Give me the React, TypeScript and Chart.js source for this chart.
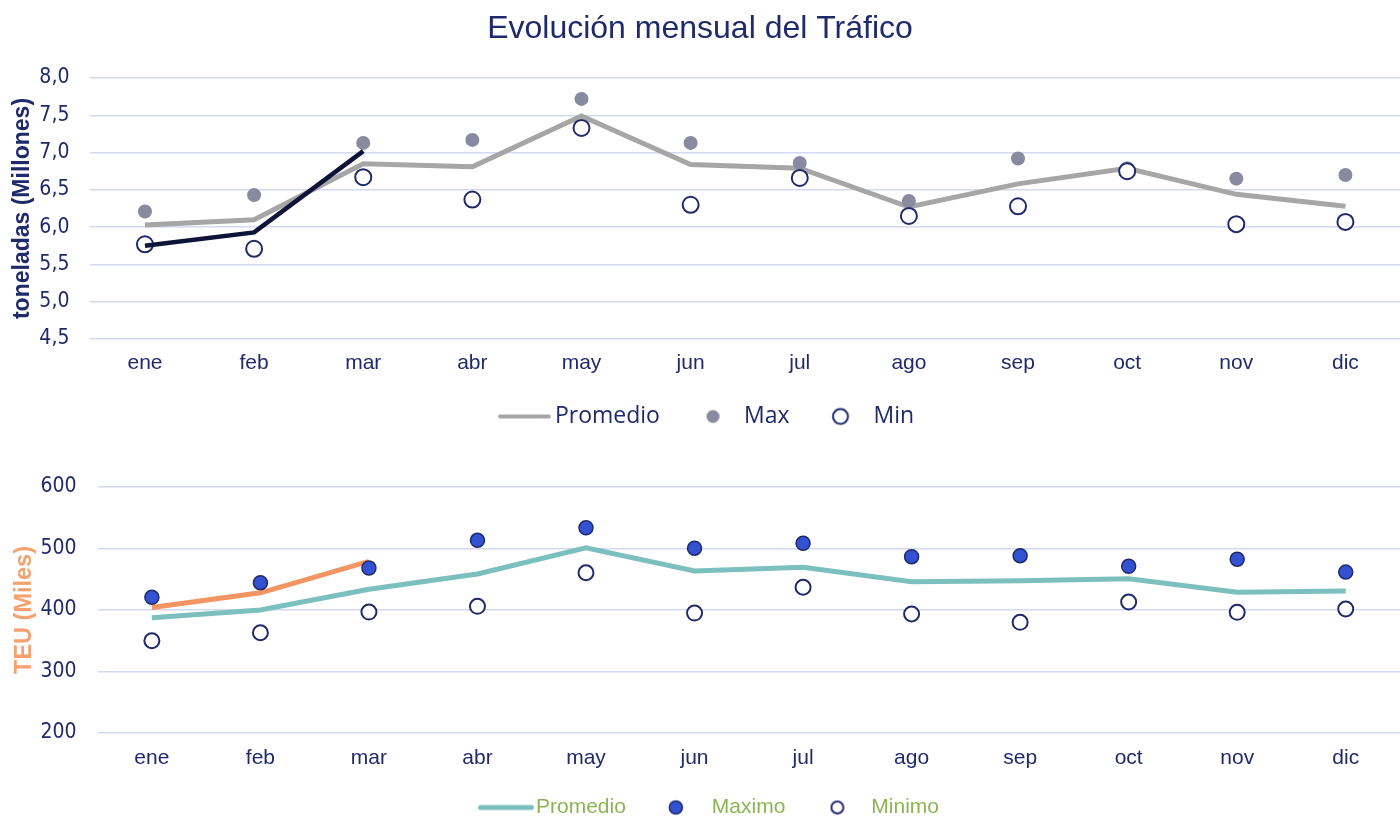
import React, { useEffect, useRef } from "react";
import { Chart, registerables } from "chart.js";

Chart.register(...registerables);

// ---------- data ----------
const months = ["ene", "feb", "mar", "abr", "may", "jun", "jul", "ago", "sep", "oct", "nov", "dic"];

const tonPromedio = [6.03, 6.1, 6.85, 6.81, 7.49, 6.84, 6.79, 6.27, 6.58, 6.79, 6.44, 6.28];
const tonMax = [6.21, 6.43, 7.13, 7.17, 7.72, 7.13, 6.86, 6.35, 6.92, 6.79, 6.65, 6.7];
const tonMin = [5.77, 5.71, 6.67, 6.37, 7.33, 6.3, 6.66, 6.15, 6.28, 6.75, 6.04, 6.07];
const tonActual = [5.75, 5.93, 7.02, null, null, null, null, null, null, null, null, null];

const teuPromedio = [387.5, 400, 433.6, 458.5, 501, 463.4, 469.6, 446, 447.7, 450.9, 428.7, 430.9];
const teuMax = [420.6, 444.4, 468.3, 513.3, 533.8, 500.5, 508.4, 486.7, 488.3, 471, 482.4, 461.6];
const teuMin = [350, 363, 396.7, 406, 460.6, 395, 437, 393.5, 380, 413, 396.2, 401.6];
const teuActual = [404, 428, 479, null, null, null, null, null, null, null, null, null];

const tonAxis = { min: 4.5, max: 8, step: 0.5 };
const teuAxis = { min: 200, max: 600, step: 100 };

const chartTitle = "Evolución mensual del Tráfico";
const tonAxisTitle = "toneladas (Millones)";
const teuAxisTitle = "TEU (Miles)";
const tonLegend = ["Promedio", "Max", "Min"];
const teuLegend = ["Promedio", "Maximo", "Minimo"];

// ---------- styles ----------
const NAVY = "#1f2a6b";
const GRID = "#d3daf2";
const GRAY_LINE = "#a6a6a6";
const GRAY_DOT = "#888a9f";
const DARK_LINE = "#0e1438";
const TEAL = "#7cbfbf";
const ORANGE = "#f39562";
const BLUE_DOT = "#3352d1";
const GREEN_TXT = "#8cb454";
const AXIS_ORANGE = "#f4a06f";
const SANS = "'Liberation Sans', Arial, sans-serif";
const NARROW = "'Liberation Sans Narrow', 'Arial Narrow', 'DejaVu Sans Condensed', sans-serif";

function symLine(w: number, x0: number, x1: number, color: string, lw: number) {
  const c = document.createElement("canvas");
  c.width = w;
  c.height = 10;
  const ctx = c.getContext("2d")!;
  ctx.strokeStyle = color;
  ctx.lineWidth = lw;
  ctx.lineCap = "round";
  ctx.beginPath();
  ctx.moveTo(x0 + lw / 2, 5);
  ctx.lineTo(x1 - lw / 2, 5);
  ctx.stroke();
  return c;
}

function symDot(w: number, cx: number, r: number, fill: string, stroke: string | null, lw: number) {
  const c = document.createElement("canvas");
  c.width = w;
  c.height = 22;
  const ctx = c.getContext("2d")!;
  ctx.beginPath();
  ctx.arc(cx, 11, r, 0, Math.PI * 2);
  ctx.fillStyle = fill;
  ctx.fill();
  if (stroke) {
    ctx.strokeStyle = stroke;
    ctx.lineWidth = lw;
    ctx.stroke();
  }
  return c;
}

function useChart(ref: React.RefObject<HTMLCanvasElement | null>, build: () => any) {
  useEffect(() => {
    if (!ref.current) return;
    const chart = new Chart(ref.current, build());
    return () => chart.destroy();
  }, []);
}

const noSidePadding = (s: any) => {
  s.paddingLeft = 0;
  s.paddingRight = 0;
};

function topConfig(): any {
  const symbols = [
    symLine(73, 19.75, 72.75, GRAY_LINE, 4),
    symDot(36, 27.25, 6.5, GRAY_DOT, null, 0),
    symDot(36, 25.25, 7.5, "#ffffff", NAVY, 2),
  ];
  return {
    type: "line",
    data: {
      labels: months,
      datasets: [
        {
          label: "Actual",
          data: tonActual,
          borderColor: DARK_LINE,
          borderWidth: 4.5,
          pointRadius: 0,
          fill: false,
        },
        {
          label: tonLegend[2],
          data: tonMin,
          showLine: false,
          pointRadius: 8,
          pointBackgroundColor: "#ffffff",
          pointBorderColor: NAVY,
          pointBorderWidth: 2,
        },
        {
          label: tonLegend[1],
          data: tonMax,
          showLine: false,
          pointRadius: 7,
          pointBackgroundColor: GRAY_DOT,
          pointBorderColor: GRAY_DOT,
          pointBorderWidth: 0,
        },
        {
          label: tonLegend[0],
          data: tonPromedio,
          borderColor: GRAY_LINE,
          borderWidth: 5,
          pointRadius: 0,
          fill: false,
        },
      ],
    },
    options: {
      responsive: false,
      animation: false,
      layout: { padding: 0, autoPadding: false },
      plugins: {
        tooltip: { enabled: false },
        title: {
          display: true,
          text: chartTitle,
          color: NAVY,
          font: { family: SANS, size: 32, weight: "normal" },
          padding: { top: 10, bottom: 29.6 },
        },
        legend: {
          position: "bottom",
          labels: {
            usePointStyle: true,
            pointStyleWidth: 57.5,
            boxHeight: 23,
            padding: 15,
            color: NAVY,
            font: { family: "'Open Sans', sans-serif", size: 23 },
            generateLabels: () =>
              tonLegend.map((t, i) => ({
                text: t,
                pointStyle: symbols[i],
                fillStyle: "transparent",
                strokeStyle: "transparent",
                lineWidth: 0,
                hidden: false,
                fontColor: NAVY,
              })),
          },
          onClick: () => {},
        },
      },
      scales: {
        x: {
          offset: true,
          grid: { display: false, drawTicks: false },
          border: { display: false },
          ticks: { color: NAVY, font: { family: SANS, size: 21 }, padding: 12, maxRotation: 0 },
          afterFit: (s: any) => {
            s.height = 51;
            noSidePadding(s);
          },
        },
        y: {
          min: tonAxis.min,
          max: tonAxis.max,
          grid: { color: GRID, lineWidth: 1.5, drawTicks: false },
          border: { display: false },
          ticks: {
            stepSize: tonAxis.step,
            color: NAVY,
            font: { family: NARROW, size: 21 },
            padding: 21,
            callback: (v: number) => v.toFixed(1).replace(".", ","),
          },
          title: {
            display: true,
            text: tonAxisTitle,
            color: NAVY,
            font: { family: SANS, size: 23, weight: "bold" },
            padding: { top: 8.7, bottom: 0 },
          },
          afterFit: (s: any) => {
            s.width = 90.4;
            noSidePadding(s);
          },
        },
      },
    },
  };
}

function bottomConfig(): any {
  const symbols = [
    symLine(82, 25.75, 81.75, TEAL, 5),
    symDot(32, 22.75, 6.5, BLUE_DOT, NAVY, 1.5),
    symDot(34, 25.75, 6, "#ffffff", NAVY, 2),
  ];
  return {
    type: "line",
    data: {
      labels: months,
      datasets: [
        {
          label: teuLegend[1],
          data: teuMax,
          showLine: false,
          pointRadius: 7,
          pointBackgroundColor: BLUE_DOT,
          pointBorderColor: NAVY,
          pointBorderWidth: 1.5,
        },
        {
          label: teuLegend[2],
          data: teuMin,
          showLine: false,
          pointRadius: 7.5,
          pointBackgroundColor: "#ffffff",
          pointBorderColor: NAVY,
          pointBorderWidth: 2,
        },
        {
          label: "Actual",
          data: teuActual,
          borderColor: ORANGE,
          borderWidth: 5,
          pointRadius: 0,
          fill: false,
        },
        {
          label: teuLegend[0],
          data: teuPromedio,
          borderColor: TEAL,
          borderWidth: 5,
          pointRadius: 0,
          fill: false,
        },
      ],
    },
    options: {
      responsive: false,
      animation: false,
      layout: { padding: { top: 47, left: 0, right: 0, bottom: 0 }, autoPadding: false },
      plugins: {
        tooltip: { enabled: false },
        title: { display: false },
        legend: {
          position: "bottom",
          labels: {
            usePointStyle: true,
            pointStyleWidth: 64.5,
            boxHeight: 21,
            padding: 11,
            color: GREEN_TXT,
            font: { family: SANS, size: 21 },
            generateLabels: () =>
              teuLegend.map((t, i) => ({
                text: t,
                pointStyle: symbols[i],
                fillStyle: "transparent",
                strokeStyle: "transparent",
                lineWidth: 0,
                hidden: false,
                fontColor: GREEN_TXT,
              })),
          },
          onClick: () => {},
        },
      },
      scales: {
        x: {
          offset: true,
          grid: { display: false, drawTicks: false },
          border: { display: false },
          ticks: { color: NAVY, font: { family: SANS, size: 21 }, padding: 13, maxRotation: 0 },
          afterFit: (s: any) => {
            s.height = 53;
            noSidePadding(s);
          },
        },
        y: {
          min: teuAxis.min,
          max: teuAxis.max,
          grid: { color: GRID, lineWidth: 1.5, drawTicks: false },
          border: { display: false },
          ticks: {
            stepSize: teuAxis.step,
            color: NAVY,
            font: { family: NARROW, size: 21 },
            padding: 21,
          },
          title: {
            display: true,
            text: teuAxisTitle,
            color: AXIS_ORANGE,
            font: { family: SANS, size: 23.5, weight: "bold" },
            padding: { top: 10, bottom: 0 },
          },
          afterFit: (s: any) => {
            s.width = 97.6;
            noSidePadding(s);
          },
        },
      },
    },
  };
}

export default function App() {
  const topRef = useRef<HTMLCanvasElement>(null);
  const botRef = useRef<HTMLCanvasElement>(null);
  useChart(topRef, topConfig);
  useChart(botRef, bottomConfig);
  return (
    <div
      style={{
        position: "fixed",
        left: 0,
        top: 0,
        width: 1400,
        height: 819,
        overflow: "hidden",
        background: "#ffffff",
      }}
    >
      <canvas
        ref={topRef}
        width={1400}
        height={438}
        style={{ position: "absolute", left: 0, top: 0, width: 1400, height: 438 }}
      />
      <canvas
        ref={botRef}
        width={1400}
        height={388}
        style={{ position: "absolute", left: 0, top: 440, width: 1400, height: 388 }}
      />
    </div>
  );
}
